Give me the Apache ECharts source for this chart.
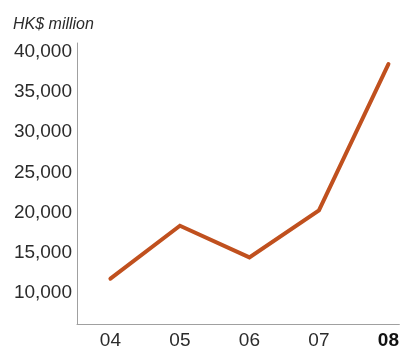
<!DOCTYPE html>
<html>
<head>
<meta charset="utf-8">
<script src="https://cdn.jsdelivr.net/npm/echarts@6/dist/echarts.min.js"></script>
<style>html,body{margin:0;padding:0;background:#fff}#c{width:402px;height:350px}</style>
</head>
<body>
<div id="c"></div>
<script>
const categories = ['04', '05', '06', '07', '08'];
const revenue = [11750, 18350, 14400, 20250, 38500];
const yTicks = [10000, 15000, 20000, 25000, 30000, 35000, 40000];
const unitLabel = 'HK$ million';

const chart = echarts.init(document.getElementById('c'), null, {renderer: 'canvas'});
const font = 'Liberation Sans, Helvetica, Arial, sans-serif';
chart.setOption({
  animation: false,
  title: {
    text: unitLabel, left: 8, top: 12,
    textStyle: {fontFamily: font, fontSize: 16, fontStyle: 'italic', fontWeight: 'normal', color: '#2b2b2b'}
  },
  grid: {left: 77, right: 0, top: 43, bottom: 26, containLabel: false},
  xAxis: {
    type: 'value', min: -0.481, max: 4.157,
    splitLine: {show: false},
    axisLine: {show: true, onZero: false, lineStyle: {color: '#a0a0a0', width: 1}},
    axisTick: {show: false},
    axisLabel: {
      customValues: categories.map((c, i) => i),
      formatter: v => { const i = Math.round(v); return i === categories.length - 1 ? '{b|' + categories[i] + '}' : categories[i]; },
      fontFamily: font, fontSize: 19, color: '#2b2b2b', margin: 7,
      rich: {b: {fontFamily: font, fontSize: 19, fontWeight: 'bold', color: '#111'}}
    }
  },
  yAxis: {
    type: 'value', min: 6100, max: 41120,
    splitLine: {show: false},
    axisLine: {show: true, onZero: false, lineStyle: {color: '#a0a0a0', width: 1}},
    axisTick: {show: false},
    axisLabel: {
      customValues: yTicks,
      formatter: v => v.toLocaleString('en-US'),
      fontFamily: font, fontSize: 19, color: '#2b2b2b', margin: 5
    }
  },
  series: [{
    type: 'line',
    data: revenue.map((v, i) => [i, v]),
    symbol: 'none',
    lineStyle: {color: '#c0501e', width: 4, cap: 'round', join: 'miter'}
  }]
});
</script>
</body>
</html>
